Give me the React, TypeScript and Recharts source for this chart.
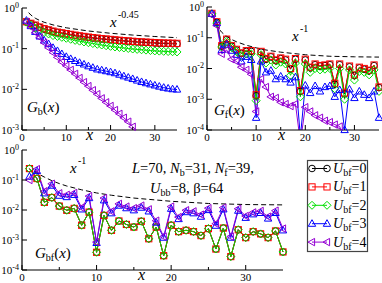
import React from 'react';
import { LineChart, Line, XAxis, YAxis } from 'recharts';

const FONT = '"Liberation Serif", "Times New Roman", Times, serif';

// ---------- data ----------
const xValues = [1, 2, 3, 4, 5, 6, 7, 8, 9, 10, 11, 12, 13, 14, 15, 16, 17, 18, 19, 20, 21, 22, 23, 24, 25, 26, 27, 28, 29, 30, 31, 32, 33, 34, 35];
const xTickValues = [0, 5, 10, 15, 20, 25, 30];
const yTicks3 = [0.001, 0.01, 0.1, 1];
const yTicks4 = [0.0001, 0.001, 0.01, 0.1, 1];
const ubfLabels = ['0', '1', '2', '3', '4'];

// G_b(x)
const gbU0 = [0.45, 0.41, 0.37, 0.335, 0.305, 0.285, 0.265, 0.25, 0.24, 0.23, 0.22, 0.21, 0.202, 0.195, 0.188, 0.182, 0.177, 0.172, 0.168, 0.164, 0.16, 0.157, 0.154, 0.151, 0.148, 0.145, 0.143, 0.141, 0.139, 0.137, 0.135, 0.134, 0.133, 0.132, 0.131];
const gbU1 = [0.46, 0.42, 0.38, 0.34, 0.31, 0.29, 0.27, 0.255, 0.245, 0.235, 0.225, 0.215, 0.207, 0.2, 0.193, 0.187, 0.182, 0.177, 0.173, 0.169, 0.165, 0.161, 0.158, 0.155, 0.152, 0.149, 0.147, 0.145, 0.143, 0.141, 0.139, 0.138, 0.137, 0.136, 0.135];
const gbU2 = [0.45, 0.38, 0.32, 0.28, 0.25, 0.23, 0.21, 0.2, 0.19, 0.18, 0.17, 0.16, 0.153, 0.146, 0.14, 0.134, 0.128, 0.123, 0.118, 0.114, 0.11, 0.107, 0.104, 0.101, 0.098, 0.096, 0.094, 0.092, 0.09, 0.088, 0.087, 0.086, 0.085, 0.084, 0.083];
const gbU3 = [0.49, 0.36, 0.26, 0.2, 0.16, 0.13, 0.105, 0.088, 0.074, 0.063, 0.056, 0.05, 0.045, 0.041, 0.037, 0.034, 0.031, 0.0295, 0.028, 0.0265, 0.025, 0.023, 0.021, 0.0195, 0.018, 0.0165, 0.0152, 0.0142, 0.0133, 0.0125, 0.0117, 0.011, 0.0105, 0.0101, 0.0099];
const gbU4 = [0.46, 0.34, 0.25, 0.19, 0.14, 0.105, 0.08, 0.061, 0.047, 0.038, 0.03, 0.024, 0.019, 0.015, 0.012, 0.0095, 0.0076, 0.006, 0.0048, 0.0039, 0.0031, 0.0025, 0.002, 0.0016, 0.0012, 0.00095, 0.00075, 0.0006, 0.00048, 0.00038, 0.0003, 0.00024, 0.00019, 0.00015, 0.00012];
const gbGuideX = [1.5, 2, 3, 4, 5, 7, 10, 15, 20, 25, 30, 35];
const gbGuideY = [0.77, 0.673, 0.561, 0.493, 0.446, 0.384, 0.326, 0.272, 0.239, 0.216, 0.199, 0.186];

// G_f(x)
const gfU0 = [0.6, 0.32, 0.053, 0.087, 0.053, 0.04, 0.031, 0.036, 0.036, 0.0013, 0.034, 0.02, 0.024, 0.018, 0.021, 0.019, 0.0095, 0.02, 0.0018, 0.019, 0.0105, 0.0133, 0.012, 0.0124, 0.0133, 0.0031, 0.0133, 0.0015, 0.0114, 0.0059, 0.0105, 0.0095, 0.0084, 0.0124, 0.0024];
const gfU1 = [0.62, 0.33, 0.055, 0.09, 0.055, 0.042, 0.032, 0.038, 0.038, 0.0014, 0.036, 0.021, 0.025, 0.019, 0.022, 0.02, 0.01, 0.021, 0.0019, 0.02, 0.011, 0.014, 0.0125, 0.013, 0.014, 0.0033, 0.014, 0.0016, 0.012, 0.0062, 0.011, 0.01, 0.0088, 0.013, 0.0025];
const gfU2 = [0.6, 0.3, 0.05, 0.075, 0.048, 0.036, 0.026, 0.03, 0.03, 0.0009, 0.028, 0.015, 0.019, 0.013, 0.016, 0.014, 0.006, 0.015, 0.0012, 0.014, 0.0075, 0.01, 0.009, 0.0095, 0.01, 0.0022, 0.01, 0.001, 0.009, 0.0042, 0.008, 0.0075, 0.0062, 0.009, 0.0018];
const gfU3 = [0.6, 0.3, 0.04, 0.06, 0.038, 0.028, 0.017, 0.024, 0.019, 0.00025, 0.017, 0.0075, 0.0085, 0.0045, 0.0055, 0.0045, 0.0035, 0.0052, 0.00006, 0.0028, 0.0016, 0.0027, 0.0018, 0.0025, 0.0027, 0.0012, 0.002, 0.0001, 0.0021, 0.0011, 0.0018, 0.0014, 0.0011, 0.0018, 0.00025];
const gfU4 = [0.55, 0.25, 0.03, 0.04, 0.02, 0.017, 0.011, 0.009, 0.0065, 0.0004, 0.0045, 0.0025, 0.0012, 0.0011, 0.0008, 0.0007, 0.0006, 0.0007, 0.00004, 0.00055, 0.0004, 0.0003, 0.00025, 0.0002, 0.00018, 0.00015, 0.00013, 0.00004, 0.00008, 0.00005, 0.00004, 0.00003, 0.00003, 0.00003, 0.00002];
const gfGuideX = [1.7, 2, 3, 4, 5, 6, 8, 10, 12, 15, 20, 25, 30, 35];
const gfGuideY = [0.29, 0.24, 0.15, 0.11, 0.088, 0.074, 0.057, 0.047, 0.04, 0.034, 0.028, 0.025, 0.024, 0.0235];

// G_bf(x)
const gbfU0 = [0.24, 0.112, 0.018, 0.026, 0.0135, 0.0098, 0.0113, 0.0031, 0.0085, 0.00039, 0.0066, 0.0021, 0.0043, 0.0033, 0.0027, 0.0042, 0.0011, 0.0027, 0.0003, 0.0031, 0.0019, 0.0021, 0.0019, 0.0014, 0.0024, 0.0005, 0.0025, 0.00028, 0.0022, 0.0012, 0.0019, 0.0016, 0.0012, 0.002, 0.0004];
const gbfU1 = [0.24, 0.112, 0.018, 0.026, 0.0135, 0.0098, 0.0113, 0.0031, 0.0085, 0.00039, 0.0066, 0.0021, 0.0043, 0.0033, 0.0027, 0.0042, 0.0011, 0.0027, 0.0003, 0.0031, 0.0019, 0.0021, 0.0019, 0.0014, 0.0024, 0.0005, 0.0025, 0.00028, 0.0022, 0.0012, 0.0019, 0.0016, 0.0012, 0.002, 0.0004];
const gbfU2 = [0.24, 0.112, 0.018, 0.026, 0.0135, 0.0098, 0.0113, 0.0031, 0.0085, 0.00039, 0.0066, 0.0021, 0.0043, 0.0033, 0.0027, 0.0042, 0.0011, 0.0027, 0.0003, 0.0031, 0.0019, 0.0021, 0.0019, 0.0014, 0.0024, 0.0005, 0.0025, 0.00028, 0.0022, 0.0012, 0.0019, 0.0016, 0.0012, 0.002, 0.0004];
const gbfU3 = [0.13, 0.2, 0.036, 0.065, 0.03, 0.027, 0.032, 0.0105, 0.025, 0.0008, 0.021, 0.0078, 0.014, 0.0115, 0.0098, 0.012, 0.009, 0.0038, 0.0012, 0.011, 0.005, 0.0085, 0.0078, 0.006, 0.01, 0.003, 0.0105, 0.0012, 0.0095, 0.0055, 0.0072, 0.008, 0.0052, 0.008, 0.0021];
const gbfU4 = [0.1, 0.23, 0.042, 0.075, 0.036, 0.032, 0.037, 0.012, 0.029, 0.00085, 0.025, 0.009, 0.016, 0.013, 0.0115, 0.014, 0.0105, 0.0044, 0.0013, 0.013, 0.0058, 0.0098, 0.009, 0.007, 0.0115, 0.0035, 0.012, 0.0013, 0.011, 0.0063, 0.0083, 0.0093, 0.006, 0.0095, 0.0024];
const gbfGuideX = [1.6, 2, 3, 4, 5, 6, 8, 10, 12, 15, 20, 25, 30, 35];
const gbfGuideY = [0.2, 0.17, 0.125, 0.095, 0.076, 0.063, 0.047, 0.037, 0.031, 0.025, 0.0195, 0.0165, 0.0152, 0.0148];

// ---------- styling ----------
const COLORS = ['#000000', '#ff0000', '#00e000', '#0000ff', '#9400d3'];
const SHAPES = ['circle', 'square', 'diamond', 'triUp', 'triLeft'];

type Row = { [k: string]: number | null };

function buildRows(series: number[][], yMin: number): Row[] {
  return xValues.map((x, i) => {
    const r: Row = { x };
    series.forEach((s, k) => {
      const v = s[i];
      r['u' + k] = v;
      r['d' + k] = v >= yMin && v <= 1 ? v : null;
    });
    return r;
  });
}

function buildGuide(gx: number[], gy: number[]) {
  return gx.map((x, i) => ({ x, y: gy[i] }));
}

function Marker({ cx, cy, shape, color }: { cx: number; cy: number; shape: string; color: string }) {
  const common = { fill: 'none', stroke: color, strokeWidth: 1 };
  switch (shape) {
    case 'circle':
      return <circle cx={cx} cy={cy} r={3.3} {...common} />;
    case 'square':
      return <rect x={cx - 3.1} y={cy - 3.1} width={6.2} height={6.2} {...common} />;
    case 'diamond':
      return <polygon points={`${cx},${cy - 4} ${cx + 4},${cy} ${cx},${cy + 4} ${cx - 4},${cy}`} {...common} />;
    case 'triUp':
      return <polygon points={`${cx},${cy - 4} ${cx + 3.7},${cy + 2.6} ${cx - 3.7},${cy + 2.6}`} {...common} />;
    default:
      return <polygon points={`${cx - 4},${cy} ${cx + 2.6},${cy - 3.7} ${cx + 2.6},${cy + 3.7}`} {...common} />;
  }
}

function makeDot(k: number) {
  return (p: any) => {
    const key = `dot-${k}-${p.index}`;
    if (p.cx == null || p.cy == null || p.value == null || isNaN(p.cy)) return <g key={key} />;
    return (
      <g key={key}>
        <Marker cx={p.cx} cy={p.cy} shape={SHAPES[k]} color={COLORS[k]} />
      </g>
    );
  };
}

const BottomTick = (p: any) => {
  const v = p.payload.value;
  const major = v % 10 === 0;
  return (
    <g>
      <line x1={p.x} x2={p.x} y1={p.y} y2={p.y - (major ? 5 : 3)} stroke="#000" strokeWidth={1} />
      {major ? (
        <text x={p.x} y={p.y + 10.5} textAnchor="middle" fontFamily={FONT} fontSize={11} fill="#000">
          {v}
        </text>
      ) : null}
    </g>
  );
};

const TopTick = (p: any) => {
  const v = p.payload.value;
  const major = v % 10 === 0;
  return <line x1={p.x} x2={p.x} y1={p.y} y2={p.y + (major ? 5 : 3)} stroke="#000" strokeWidth={1} />;
};

const LeftTick = (p: any) => {
  const v = p.payload.value;
  const e = Math.round(Math.log10(v));
  return (
    <g>
      <line x1={p.x} x2={p.x + 5} y1={p.y} y2={p.y} stroke="#000" strokeWidth={1} />
      <text x={p.x - 3} y={p.y + 4} textAnchor="end" fontFamily={FONT} fontSize={11} fill="#000">
        10
        <tspan dy={-4.5} fontSize={8}>
          {String(e)}
        </tspan>
      </text>
    </g>
  );
};

const RightTick = (p: any) => <line x1={p.x} x2={p.x - 5} y1={p.y} y2={p.y} stroke="#000" strokeWidth={1} />;

type PanelProps = {
  width: number;
  height: number;
  margin: { top: number; right: number; bottom: number; left: number };
  xAxisHeight: number;
  series: number[][];
  yMin: number;
  yTicks: number[];
  guide: { x: number; y: number }[];
};

function Panel({ width, height, margin, xAxisHeight, series, yMin, yTicks, guide }: PanelProps) {
  const rows = buildRows(series, yMin);
  const items: React.ReactNode[] = [];
  for (let k = 0; k < series.length; k++) {
    items.push(
      <Line
        key={'l' + k}
        xAxisId="b"
        yAxisId="clip"
        dataKey={'u' + k}
        stroke={COLORS[k]}
        strokeWidth={1}
        dot={false}
        activeDot={false}
        isAnimationActive={false}
      />
    );
    items.push(
      <Line
        key={'d' + k}
        xAxisId="b"
        yAxisId="free"
        dataKey={'d' + k}
        stroke="none"
        dot={makeDot(k)}
        activeDot={false}
        isAnimationActive={false}
      />
    );
  }
  const axisLine = { stroke: '#000', strokeWidth: 1.2 };
  return (
    <LineChart width={width} height={height} data={rows} margin={margin}>
      <XAxis
        xAxisId="b"
        dataKey="x"
        type="number"
        domain={[0, 35]}
        ticks={xTickValues}
        interval={0}
        height={xAxisHeight}
        tick={BottomTick}
        tickLine={false}
        tickSize={0}
        tickMargin={0}
        axisLine={axisLine}
      />
      <XAxis
        xAxisId="t"
        orientation="top"
        type="number"
        domain={[0, 35]}
        ticks={xTickValues}
        interval={0}
        height={0}
        tick={TopTick}
        tickLine={false}
        tickSize={0}
        tickMargin={0}
        axisLine={axisLine}
      />
      <YAxis
        yAxisId="clip"
        type="number"
        scale="log"
        domain={[yMin, 1]}
        allowDataOverflow
        ticks={yTicks}
        interval={0}
        width={22}
        tick={LeftTick}
        tickLine={false}
        tickSize={0}
        tickMargin={0}
        axisLine={axisLine}
      />
      <YAxis
        yAxisId="r"
        orientation="right"
        type="number"
        scale="log"
        domain={[yMin, 1]}
        allowDataOverflow
        ticks={yTicks}
        interval={0}
        width={0}
        tick={RightTick}
        tickLine={false}
        tickSize={0}
        tickMargin={0}
        axisLine={axisLine}
      />
      <YAxis yAxisId="free" type="number" scale="log" domain={[yMin, 1]} hide />
      {items}
      <Line
        xAxisId="b"
        yAxisId="clip"
        data={guide}
        dataKey="y"
        stroke="#000"
        strokeWidth={1}
        strokeDasharray="5 3"
        dot={false}
        activeDot={false}
        isAnimationActive={false}
      />
    </LineChart>
  );
}

function Sub({ children }: { children: React.ReactNode }) {
  return <>{children}</>;
}

export default function App() {
  return (
    <div style={{ position: 'absolute', left: 0, top: 0, width: 382, height: 283, overflow: 'hidden', background: '#fff' }}>
      <div style={{ position: 'absolute', left: 0, top: 0 }}>
        <Panel
          width={190}
          height={145}
          margin={{ top: 8, right: 13, bottom: 0, left: 0 }}
          xAxisHeight={15}
          series={[gbU0, gbU1, gbU2, gbU3, gbU4]}
          yMin={0.001}
          yTicks={yTicks3}
          guide={buildGuide(gbGuideX, gbGuideY)}
        />
      </div>
      <div style={{ position: 'absolute', left: 185, top: 0 }}>
        <Panel
          width={197}
          height={145}
          margin={{ top: 7, right: 3, bottom: 0, left: 0 }}
          xAxisHeight={15}
          series={[gfU0, gfU1, gfU2, gfU3, gfU4]}
          yMin={0.0001}
          yTicks={yTicks4}
          guide={buildGuide(gfGuideX, gfGuideY)}
        />
      </div>
      <div style={{ position: 'absolute', left: 0, top: 140 }}>
        <Panel
          width={290}
          height={143}
          margin={{ top: 10, right: 7, bottom: 0, left: 0 }}
          xAxisHeight={13}
          series={[gbfU0, gbfU1, gbfU2, gbfU3, gbfU4]}
          yMin={0.0001}
          yTicks={yTicks4}
          guide={buildGuide(gbfGuideX, gbfGuideY)}
        />
      </div>
      <svg width={382} height={283} style={{ position: 'absolute', left: 0, top: 0 }} fontFamily={FONT} fill="#000">
        {/* panel 1 annotations */}
        <text x={110} y={27} fontSize={15} fontStyle="italic">x</text>
        <text x={118} y={18} fontSize={10}>-0.45</text>
        <text x={27} y={112} fontSize={15}>
          <tspan fontStyle="italic">G</tspan>
          <tspan fontSize={10} dy={3}>b</tspan>
          <tspan dy={-3}>(</tspan>
          <tspan fontStyle="italic">x</tspan>
          <tspan>)</tspan>
        </text>
        <text x={86} y={140} fontSize={16} fontStyle="italic">x</text>

        {/* panel 2 annotations */}
        <text x={292} y={41} fontSize={15} fontStyle="italic">x</text>
        <text x={300} y={32} fontSize={10}>-1</text>
        <text x={214} y={115} fontSize={15}>
          <tspan fontStyle="italic">G</tspan>
          <tspan fontSize={10} dy={3}>f</tspan>
          <tspan dy={-3}>(</tspan>
          <tspan fontStyle="italic">x</tspan>
          <tspan>)</tspan>
        </text>
        <text x={278} y={140} fontSize={16} fontStyle="italic">x</text>

        {/* panel 3 annotations */}
        <text x={70} y={173} fontSize={15} fontStyle="italic">x</text>
        <text x={78} y={164} fontSize={10}>-1</text>
        <text x={132} y={173} fontSize={14.5}>
          <tspan fontStyle="italic">L</tspan>
          <tspan>=70, </tspan>
          <tspan fontStyle="italic">N</tspan>
          <tspan fontSize={10} dy={3}>b</tspan>
          <tspan dy={-3}>=31, </tspan>
          <tspan fontStyle="italic">N</tspan>
          <tspan fontSize={10} dy={3}>f</tspan>
          <tspan dy={-3}>=39,</tspan>
        </text>
        <text x={150} y={193} fontSize={14.5}>
          <tspan fontStyle="italic">U</tspan>
          <tspan fontSize={10} dy={3}>bb</tspan>
          <tspan dy={-3}>=8, β=64</tspan>
        </text>
        <text x={35} y={258} fontSize={15}>
          <tspan fontStyle="italic">G</tspan>
          <tspan fontSize={10} dy={3}>bf</tspan>
          <tspan dy={-3}>(</tspan>
          <tspan fontStyle="italic">x</tspan>
          <tspan>)</tspan>
        </text>
        <text x={138} y={280} fontSize={16} fontStyle="italic">x</text>

        {/* legend */}
        <rect x={307.5} y={160.5} width={60} height={91} fill="#fff" stroke="#444" strokeWidth={1.2} />
        {ubfLabels.map((lab, k) => {
          const cy = 168.5 + k * 18.4;
          return (
            <g key={'lg' + k}>
              <line x1={312} x2={327} y1={cy} y2={cy} stroke={COLORS[k]} strokeWidth={1} />
              <Marker cx={312} cy={cy} shape={SHAPES[k]} color={COLORS[k]} />
              <Marker cx={327} cy={cy} shape={SHAPES[k]} color={COLORS[k]} />
              <text x={333} y={cy + 4.5} fontSize={14}>
                <tspan fontStyle="italic">U</tspan>
                <tspan fontSize={10} dy={3}>bf</tspan>
                <tspan dy={-3}>={lab}</tspan>
              </text>
            </g>
          );
        })}
      </svg>
    </div>
  );
}
